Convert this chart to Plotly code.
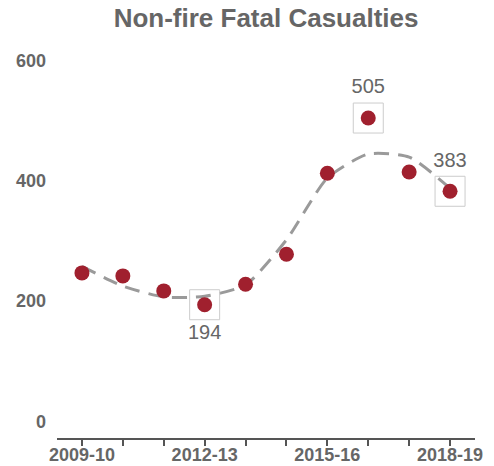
import plotly.graph_objects as go

years = ["2009-10", "2010-11", "2011-12", "2012-13", "2013-14",
         "2014-15", "2015-16", "2016-17", "2017-18", "2018-19"]
casualties = [247, 242, 217, 194, 228, 278, 413, 505, 415, 383]
trend = [258, 225, 207, 208, 227, 302, 405, 445, 440, 388]

label_years = ["2012-13", "2016-17", "2018-19"]
label_values = [194, 505, 383]
label_pos = ["bottom center", "top center", "top center"]
tick_years = ["2009-10", "2012-13", "2015-16", "2018-19"]

xi = list(range(len(years)))
lx = [years.index(y) for y in label_years]

font = "Liberation Sans, Arial, sans-serif"
grey = "#666666"

fig = go.Figure()
fig.add_trace(go.Scatter(
    x=xi, y=trend, mode="lines",
    line=dict(color="#9a9a9a", width=3, dash="15px,9px", shape="spline", smoothing=0.6),
    hoverinfo="skip", showlegend=False))
fig.add_trace(go.Scatter(
    x=lx, y=label_values, mode="markers+text",
    marker=dict(symbol="square-open", size=30, color="#cccccc", line=dict(width=1, color="#cccccc")),
    text=[str(v) for v in label_values], textposition=label_pos,
    textfont=dict(family=font, size=20, color=grey),
    hoverinfo="skip", showlegend=False))
fig.add_trace(go.Scatter(
    x=xi, y=casualties, mode="markers",
    marker=dict(color="#a0202e", size=15),
    showlegend=False))

fig.update_layout(
    width=494, height=466,
    margin=dict(l=57, r=19, t=49, b=28),
    paper_bgcolor="white", plot_bgcolor="white",
    title=dict(text="<b>Non-fire Fatal Casualties</b>", x=0.5386, xanchor="center",
               y=0.962, yanchor="middle",
               font=dict(family=font, size=26, color=grey)),
    xaxis=dict(range=[-0.61, 9.61], tickmode="array", automargin=False,
               tickvals=list(range(len(years))),
               ticktext=[("<b>%s</b>" % y) if y in tick_years else "" for y in years],
               showgrid=False, zeroline=False, showline=True, linecolor="#555555", linewidth=1.5,
               ticks="outside", ticklen=6, tickcolor="#555555", tickwidth=1.5,
               ticklabelstandoff=-6,
               tickfont=dict(family=font, size=18, color=grey)),
    yaxis=dict(range=[-28, 620], tickvals=[0, 200, 400, 600], automargin=False,
               ticktext=["<b>0</b>", "<b>200</b>", "<b>400</b>", "<b>600</b>"],
               showgrid=False, zeroline=False, showline=False, ticks="",
               ticklabelstandoff=10,
               tickfont=dict(family=font, size=18, color=grey)),
)

fig.write_html("out.html", config={"displayModeBar": False},
               post_script="document.body.style.margin='0';document.body.style.overflow='hidden';")
